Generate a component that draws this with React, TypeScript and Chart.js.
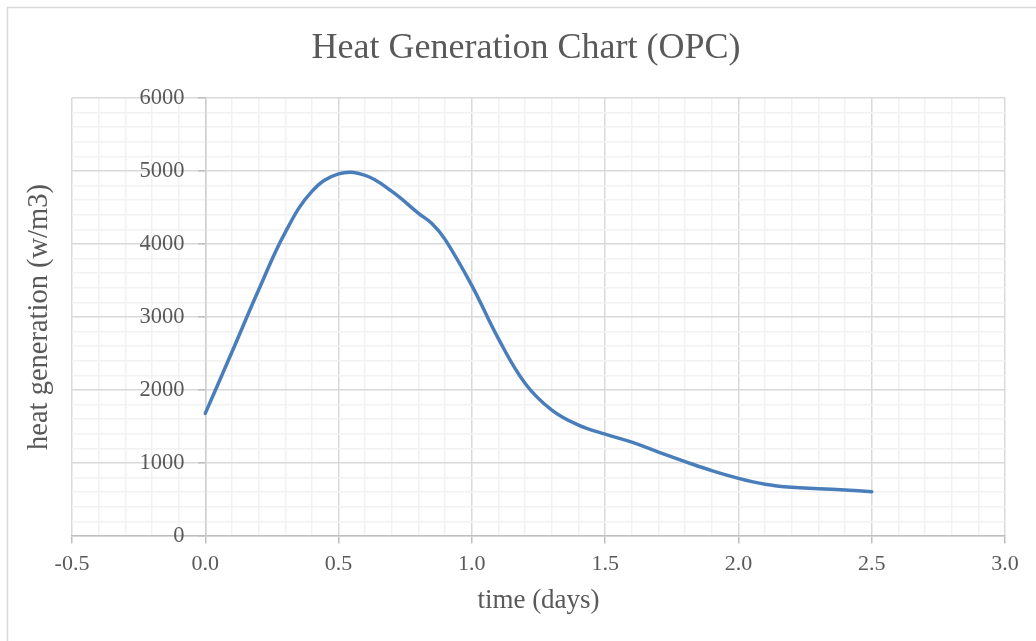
import React, { useEffect, useRef } from "react";
import { Chart, registerables } from "chart.js";

Chart.register(...registerables);

// Time after casting (days) and measured heat generation (W/m3)
const timeDays = [0, 0.1, 0.2, 0.3, 0.4, 0.5, 0.6, 0.7, 0.8, 0.85, 0.9, 1.0, 1.1, 1.2, 1.3, 1.4, 1.5, 1.6, 1.7, 1.8, 1.9, 2.0, 2.1, 2.2, 2.3, 2.4, 2.5];
const heatGeneration = [1680, 2520, 3370, 4160, 4720, 4960, 4940, 4720, 4420, 4280, 4060, 3430, 2700, 2090, 1725, 1520, 1395, 1285, 1150, 1020, 895, 790, 710, 667, 648, 630, 607];

const chartTitle = "Heat Generation Chart (OPC)";
const xTitle = "time (days)";
const yTitle = "heat generation (w/m3)";

const xMin = -0.5;
const xMax = 3.0;
const yMin = 0;
const yMax = 6000;

const FONT = "'Liberation Serif', 'Times New Roman', serif";
const TEXT = "#595959";
const MAJOR = "#d9d9d9";
const MINOR = "#f2f2f2";

const isMajorX = (v: number) => Math.abs(Math.round(v * 10)) % 5 === 0;
const isMajorY = (v: number) => Math.round(v) % 1000 === 0;
const yLabel = (v: any) => (isMajorY(Number(v)) ? String(v) : "");

const decor = {
  id: "decor",
  beforeDraw(chart: any) {
    const { ctx, width, height } = chart;
    ctx.save();
    ctx.fillStyle = "#ffffff";
    ctx.fillRect(0, 0, width, height);
    ctx.strokeStyle = "#d9d9d9";
    ctx.lineWidth = 1.5;
    ctx.strokeRect(7.5, 7.5, width + 20, height + 20);
    ctx.restore();
  },
  afterDraw(chart: any) {
    const { ctx, chartArea } = chart;
    ctx.save();
    ctx.fillStyle = TEXT;
    ctx.textAlign = "center";
    ctx.textBaseline = "middle";
    ctx.font = `36px ${FONT}`;
    ctx.fillText(chartTitle, 526, 49);
    ctx.font = `27px ${FONT}`;
    ctx.fillText(xTitle, (chartArea.left + chartArea.right) / 2, 601);
    ctx.font = `28.5px ${FONT}`;
    ctx.translate(40, 317);
    ctx.rotate(-Math.PI / 2);
    ctx.fillText(yTitle, 0, 0);
    ctx.restore();
  },
};

export default function App() {
  const canvasRef = useRef<HTMLCanvasElement | null>(null);

  useEffect(() => {
    const canvas = canvasRef.current;
    if (!canvas) return;
    const chart = new Chart(canvas, {
      type: "line",
      data: {
        datasets: [
          {
            data: timeDays.map((t, i) => ({ x: t, y: heatGeneration[i] })),
            borderColor: "#4a7ebb",
            borderWidth: 3.5,
            pointRadius: 0,
            tension: 0.4,
            borderCapStyle: "round",
            borderJoinStyle: "round",
            fill: false,
          },
        ],
      },
      options: {
        animation: false,
        responsive: false,
        devicePixelRatio: 1,
        layout: { padding: { left: 72, right: 31, top: 98, bottom: 105 } },
        plugins: {
          legend: { display: false },
          tooltip: { enabled: false },
          title: { display: false },
        },
        scales: {
          x: {
            type: "linear",
            position: { y: 0 } as any,
            min: xMin,
            max: xMax,
            ticks: {
              stepSize: 0.1,
              autoSkip: false,
              maxRotation: 0,
              padding: 8,
              color: TEXT,
              font: { family: FONT, size: 22 },
              callback: (v: any) => (isMajorX(Number(v)) ? Number(v).toFixed(1) : ""),
            },
            grid: {
              color: (c: any) => (c.tick && isMajorX(c.tick.value) ? MAJOR : MINOR),
              tickColor: (c: any) => (c.tick && isMajorX(c.tick.value) ? "#bfbfbf" : "rgba(0,0,0,0)"),
              tickLength: 7,
              lineWidth: 1.5,
            },
            border: { color: "#bfbfbf", width: 1.5 },
          },
          y: {
            type: "linear",
            position: { x: 0 } as any,
            min: yMin,
            max: yMax,
            ticks: {
              stepSize: 200,
              autoSkip: false,
              display: false,
              callback: yLabel,
            },
            grid: {
              color: (c: any) => (c.tick && isMajorY(c.tick.value) ? MAJOR : MINOR),
              tickColor: (c: any) => (c.tick && isMajorY(c.tick.value) ? "#bfbfbf" : "rgba(0,0,0,0)"),
              tickLength: 7,
              lineWidth: 1.5,
            },
            border: { color: "#cfcfcf", width: 1.5 },
          },
          // value labels for the y axis, set just left of the x = 0 axis line
          yLabels: {
            type: "linear",
            axis: "y",
            position: { x: -0.078 } as any,
            min: yMin,
            max: yMax,
            ticks: {
              stepSize: 1000,
              autoSkip: false,
              color: TEXT,
              font: { family: FONT, size: 22.5 },
              callback: yLabel,
            },
            grid: { display: false, drawTicks: false },
            border: { display: false },
          },
        },
      },
      plugins: [decor],
    });
    return () => chart.destroy();
  }, []);

  return (
    <div style={{ position: "absolute", left: 0, top: 0, width: 1036, height: 641, background: "#fff" }}>
      <canvas ref={canvasRef} width={1036} height={641} style={{ display: "block" }} />
    </div>
  );
}
